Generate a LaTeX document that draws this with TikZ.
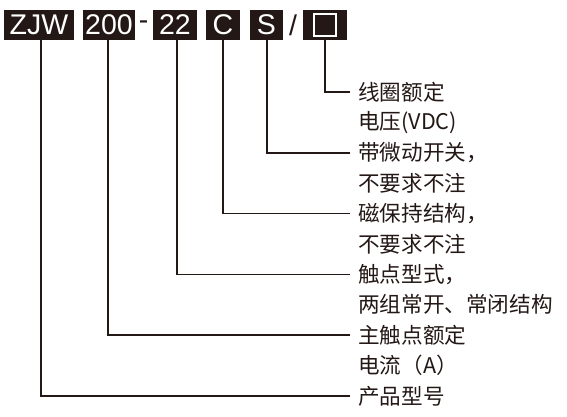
\documentclass[tikz,border=0pt]{standalone}
\usepackage{fontspec}
\newfontfamily\cjk{Noto Sans CJK SC}
\newfontfamily\cjkbold[FakeBold=2.5]{Noto Sans CJK SC}
\newfontfamily\boxfont{Liberation Sans}
\definecolor{ink}{HTML}{231815}
\begin{document}
\begin{tikzpicture}[x=1pt,y=-1pt,
  codebox/.style={fill=ink,text=white,minimum height=30pt,inner sep=0pt,
    font=\boxfont\fontsize{28.5}{28.5}\selectfont},
  sep/.style={text=ink,inner sep=0pt,font=\boxfont\fontsize{28.5}{28.5}\selectfont},
  lbl/.style={anchor=west,text=ink,inner xsep=8pt,inner ysep=0pt,
    font=\cjk\fontsize{21.6}{21.6}\selectfont},
  conn/.style={draw=ink,line width=1.5pt}]
\useasboundingbox (0,0) rectangle (567,416);
% code boxes
\node[codebox,minimum width=70pt] (zjw) at (39,25) {ZJW};
\node[codebox,minimum width=52pt] (b200) at (109,25) {200};
\node[sep] (dash) at (143.5,25) {-};
\node[codebox,minimum width=44pt] (b22) at (175,25) {22};
\node[codebox,minimum width=34pt] (bc) at (223,25) {C};
\node[codebox,minimum width=33pt] (bs) at (266.5,25) {S};
\node[sep] (slash) at (293,25) {/};
\node[codebox,minimum width=44pt,font=\cjkbold\fontsize{29}{29}\selectfont] (bq) at (325,25) {□};
% labels
\node[lbl] (t1a) at (350,92) {线圈额定};
\node[lbl] (t1b) at (350,122.4) {电压(VDC)};
\node[lbl] (t2a) at (350,152.8) {带微动开关，};
\node[lbl] (t2b) at (350,183.2) {不要求不注};
\node[lbl] (t3a) at (350,213.6) {磁保持结构，};
\node[lbl] (t3b) at (350,244) {不要求不注};
\node[lbl] (t4a) at (350,274.4) {触点型式，};
\node[lbl] (t4b) at (350,304.8) {两组常开、常闭结构};
\node[lbl] (t5a) at (350,335.2) {主触点额定};
\node[lbl] (t5b) at (350,365.6) {电流（A）};
\node[lbl] (t6a) at (350,396) {产品型号};
% connectors
\draw[conn] (bq.south) |- (t1a.west);
\draw[conn] ([xshift=0.5pt]bs.south) |- (t2a.west);
\draw[conn] (bc.south) |- (t3a.west);
\draw[conn] ([xshift=2pt]b22.south) |- (t4a.west);
\draw[conn] ([xshift=-1pt]b200.south) |- (t5a.west);
\draw[conn] ([xshift=2pt]zjw.south) |- (t6a.west);
\end{tikzpicture}
\end{document}
